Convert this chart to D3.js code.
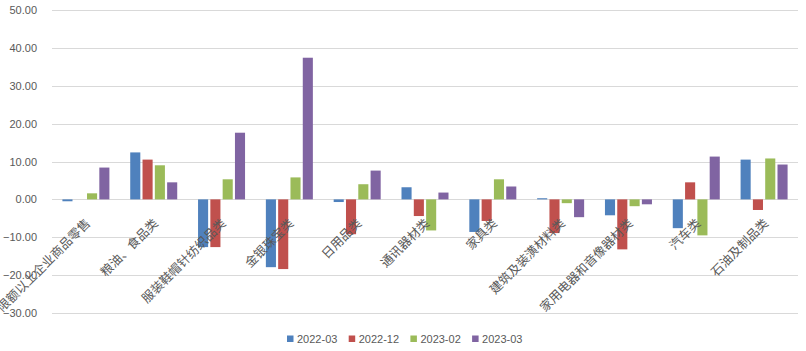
<!DOCTYPE html>
<html>
<head>
<meta charset="utf-8">
<script src="https://cdn.jsdelivr.net/npm/d3@7"></script>
<style>
  body { margin: 0; background: #fff; }
  svg { display: block; }
</style>
</head>
<body>
<div id="chart"></div>
<script>
// data
const categories = [
  "限额以上企业商品零售", "粮油、食品类", "服装鞋帽针纺织品类", "金银珠宝类",
  "日用品类", "通讯器材类", "家具类", "建筑及装潢材料类",
  "家用电器和音像器材类", "汽车类", "石油及制品类"
];
const seriesNames = ["2022-03", "2022-12", "2023-02", "2023-03"];
const s2022_03 = [-0.5, 12.4, -12.6, -17.9, -0.7, 3.2, -8.6, 0.3, -4.2, -7.6, 10.5];
const s2022_12 = [0, 10.5, -12.6, -18.4, -9.2, -4.4, -5.7, -8.9, -13.2, 4.5, -2.8];
const s2023_02 = [1.6, 9.0, 5.3, 5.8, 4.0, -8.2, 5.3, -1.0, -1.8, -9.5, 10.8];
const s2023_03 = [8.4, 4.5, 17.6, 37.4, 7.6, 1.8, 3.4, -4.7, -1.3, 11.3, 9.2];
const yTicks = [-30, -20, -10, 0, 10, 20, 30, 40, 50];
const colors = ["#4f81bd", "#c0504d", "#9bbb59", "#8064a2"];

const allSeries = [s2022_03, s2022_12, s2023_02, s2023_03];

const width = 806, height = 351;
const margin = { left: 52, right: 8, top: 10, bottom: 38 };

const svg = d3.select("#chart").append("svg")
  .attr("width", width)
  .attr("height", height);

const x0 = d3.scaleBand()
  .domain(categories)
  .range([margin.left, width - margin.right]);

const x1 = d3.scaleBand()
  .domain(seriesNames)
  .range([0, 47])
  .paddingInner(0.18);

const y = d3.scaleLinear()
  .domain([-30, 50])
  .range([313, 10]);

// grid
svg.append("g")
  .selectAll("line")
  .data(yTicks)
  .join("line")
  .attr("x1", margin.left)
  .attr("x2", width - margin.right)
  .attr("y1", d => Math.round(y(d)) + 0.5)
  .attr("y2", d => Math.round(y(d)) + 0.5)
  .attr("stroke", "#d9d9d9")
  .attr("stroke-width", 1);

// y labels
svg.append("g")
  .selectAll("text")
  .data(yTicks)
  .join("text")
  .attr("x", 37)
  .attr("y", d => y(d) + 4)
  .attr("text-anchor", "end")
  .attr("font-family", "Liberation Sans, Arial, sans-serif")
  .attr("font-size", 11)
  .attr("fill", "#595959")
  .text(d => d3.format(".2f")(d));

// bars
const groups = svg.append("g")
  .selectAll("g")
  .data(categories)
  .join("g")
  .attr("transform", d => `translate(${x0(d) + (x0.bandwidth() - 47) / 2},0)`);

groups.selectAll("rect")
  .data((c, i) => seriesNames.map((s, k) => ({ s, k, v: allSeries[k][i] })))
  .join("rect")
  .attr("x", d => x1(d.s))
  .attr("width", x1.bandwidth())
  .attr("y", d => Math.min(y(d.v), y(0)))
  .attr("height", d => Math.abs(y(d.v) - y(0)))
  .attr("fill", d => colors[d.k]);

// category labels (rotated, the first one runs off the left edge like the original)
svg.append("g")
  .selectAll("text")
  .data(categories)
  .join("text")
  .attr("transform", d => `translate(${x0(d) + x0.bandwidth() / 2 + 2},221) rotate(-45)`)
  .attr("text-anchor", "end")
  .attr("dy", "0.35em")
  .attr("font-family", "Noto Sans CJK SC, sans-serif")
  .attr("font-size", 12.5)
  .attr("fill", "#595959")
  .text(d => d);

// legend
const legend = svg.append("g")
  .attr("transform", "translate(287,339)");

const item = legend.selectAll("g")
  .data(seriesNames)
  .join("g")
  .attr("transform", (d, i) => `translate(${i * 61.7},0)`);

item.append("rect")
  .attr("x", 0)
  .attr("y", -3.5)
  .attr("width", 6.5)
  .attr("height", 6.5)
  .attr("fill", (d, i) => colors[i]);

item.append("text")
  .attr("x", 10)
  .attr("y", 4)
  .attr("font-family", "Liberation Sans, Arial, sans-serif")
  .attr("font-size", 11)
  .attr("fill", "#595959")
  .text(d => d);
</script>
</body>
</html>
